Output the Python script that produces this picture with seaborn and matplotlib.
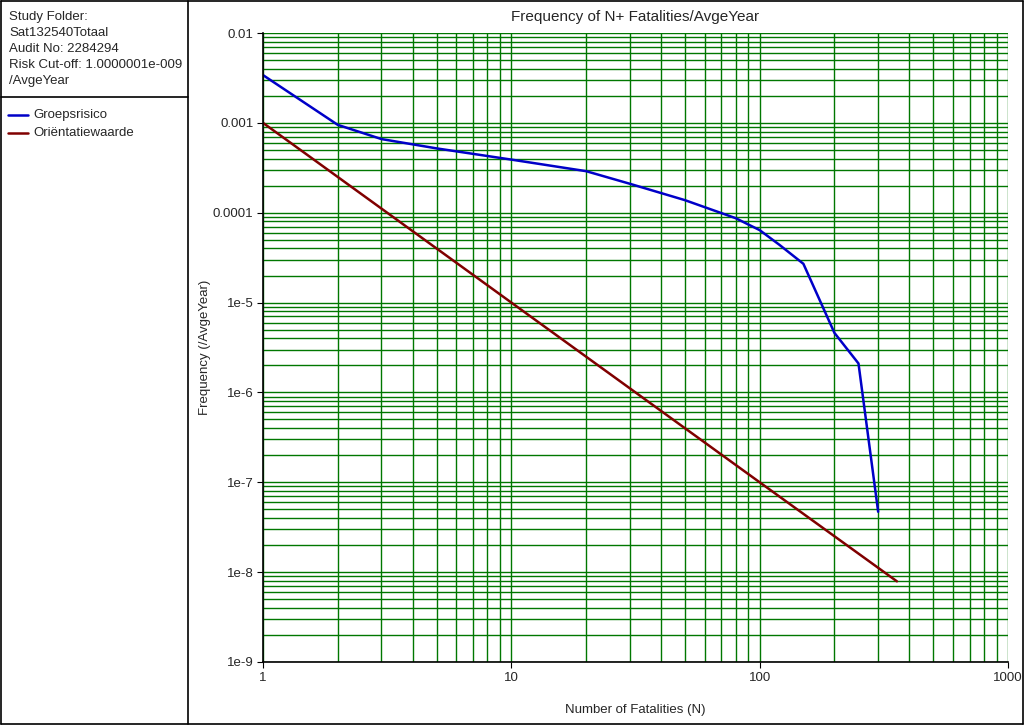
import pandas as pd
import seaborn as sns
import matplotlib.pyplot as plt
from matplotlib.lines import Line2D

# values
groeps_n = [1, 2, 3, 5, 10, 20, 30, 50, 80, 100, 120, 150, 200, 250, 300]
groeps_f = [3.4e-3, 9.5e-4, 6.6e-4, 5.2e-4, 3.9e-4, 2.9e-4, 2.1e-4, 1.38e-4,
            8.7e-5, 6.4e-5, 4.4e-5, 2.7e-5, 4.6e-6, 2.1e-6, 4.7e-8]
orient_n = [1, 10, 100, 357]
orient_f = [1e-3, 1e-5, 1e-7, 7.9e-9]

y_ticks = [1e-9, 1e-8, 1e-7, 1e-6, 1e-5, 1e-4, 1e-3, 1e-2]
y_labels = ['1e-9', '1e-8', '1e-7', '1e-6', '1e-5', '0.0001', '0.001', '0.01']
x_ticks = [1, 10, 100, 1000]
x_labels = ['1', '10', '100', '1000']
info_lines = ['Study Folder:', 'Sat132540Totaal', 'Audit No: 2284294',
              'Risk Cut-off: 1.0000001e-009', '/AvgeYear']

df = pd.concat([
    pd.DataFrame({'N': groeps_n, 'F': groeps_f, 'serie': 'Groepsrisico'}),
    pd.DataFrame({'N': orient_n, 'F': orient_f, 'serie': 'Oriëntatiewaarde'}),
])

sns.set_style('white')
plt.rcParams['font.family'] = ['Liberation Sans', 'DejaVu Sans']
plt.rcParams['font.size'] = 9.5

fig = plt.figure(figsize=(10.24, 7.25), dpi=100)
ax = fig.add_axes([263 / 1024, 1 - 662 / 725, 745 / 1024, 629 / 725])

palette = {'Groepsrisico': '#0000c8', 'Oriëntatiewaarde': '#800000'}
sns.lineplot(data=df, x='N', y='F', hue='serie', palette=palette, ax=ax,
             linewidth=1.8, legend=False, sort=False)

ax.set_xscale('log')
ax.set_yscale('log')
ax.set_xlim(1, 1000)
ax.set_ylim(1e-9, 1e-2)
ax.grid(True, which='both', color='#007700', linewidth=1.0)
ax.set_axisbelow(True)
ax.set_xticks(x_ticks)
ax.set_xticklabels(x_labels)
ax.set_yticks(y_ticks)
ax.set_yticklabels(y_labels)
ax.tick_params(which='major', length=4, color='black', direction='out',
               bottom=True, left=True, labelsize=9.5, pad=3)
ax.tick_params(which='minor', length=0)
for side in ['top', 'right']:
    ax.spines[side].set_visible(False)
for side in ['left', 'bottom']:
    ax.spines[side].set_color('black')
    ax.spines[side].set_linewidth(1.2)
ax.set_xlabel('')
ax.set_ylabel('')

fig.text(635 / 1024, 1 - 17 / 725, 'Frequency of N+ Fatalities/AvgeYear',
         fontsize=11, ha='center', va='center')
fig.text(635 / 1024, 1 - 710 / 725, 'Number of Fatalities (N)',
         fontsize=9.5, ha='center', va='center')
fig.text(205 / 1024, 1 - 347 / 725, 'Frequency (/AvgeYear)',
         fontsize=9.5, ha='center', va='center', rotation=90)

# left info panel and outer border
def px_line(x0, y0, x1, y1):
    fig.add_artist(Line2D([x0 / 1024, x1 / 1024], [1 - y0 / 725, 1 - y1 / 725],
                          color='black', linewidth=1.2))

px_line(1, 1, 1023, 1)
px_line(1, 724, 1023, 724)
px_line(1, 1, 1, 724)
px_line(1023, 1, 1023, 724)
px_line(188, 1, 188, 724)
px_line(1, 97, 188, 97)

for i, line in enumerate(info_lines):
    fig.text(9 / 1024, 1 - (17 + 16 * i) / 725, line, fontsize=9.5, va='center')

legend_names = ['Groepsrisico', 'Oriëntatiewaarde']
for i, name in enumerate(legend_names):
    y = 1 - (115 + 18 * i) / 725
    fig.add_artist(Line2D([8 / 1024, 28 / 1024], [y, y], color=palette[name],
                          linewidth=1.8))
    fig.text(33 / 1024, y, name, fontsize=9.5, va='center')

fig.savefig('out.png', dpi=100)
